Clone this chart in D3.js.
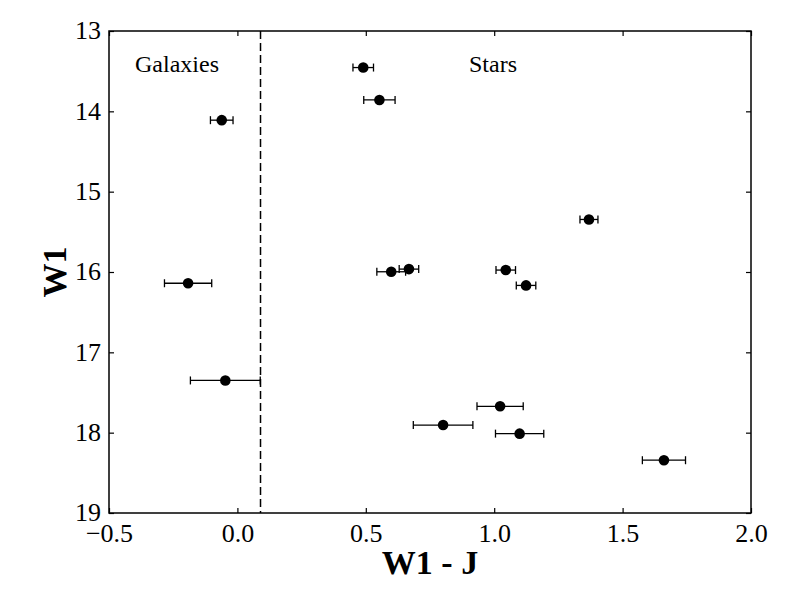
<!DOCTYPE html>
<html>
<head>
    <meta charset="utf-8">
    <script src="https://cdn.jsdelivr.net/npm/d3@7/dist/d3.min.js"></script>
    <style>
        body { margin: 0; background: #fff; }
        svg text { font-family: "Liberation Serif", "DejaVu Serif", serif; fill: #000; }
        .axis path { display: none; }
        .axis line { stroke: #000; stroke-width: 1.2; }
    </style>
</head>
<body>
    <svg id="CANVAS"></svg>
    <script>
        var W = 789;
        var H = 592;
        var M = { left: 109, right: 38, top: 31, bottom: 79 };
        var SERIF = "Liberation Serif, DejaVu Serif, serif";

        // W1 - J colour, W1 magnitude, error on colour
        var galaxyColor = [-0.061, -0.192, -0.047];
        var galaxyMag = [14.11, 16.14, 17.35];
        var galaxyErr = [0.044, 0.092, 0.136];

        var starColor = [0.490, 0.553, 1.369, 0.599, 0.668, 1.045, 1.124, 1.023, 0.801, 1.099, 1.661];
        var starMag = [13.455, 13.858, 15.346, 15.997, 15.964, 15.976, 16.167, 17.672, 17.905, 18.012, 18.343];
        var starErr = [0.040, 0.061, 0.035, 0.056, 0.038, 0.038, 0.038, 0.090, 0.116, 0.094, 0.084];

        var xTicks = [-0.5, 0.0, 0.5, 1.0, 1.5, 2.0];
        var yTicks = [13, 14, 15, 16, 17, 18, 19];
        var divider = 0.09;

        var svg = d3.select("#CANVAS").attr("width", W).attr("height", H);

        var x = d3.scaleLinear().domain([-0.5, 2.0]).range([M.left, W - M.right]);
        var y = d3.scaleLinear().domain([13, 19]).range([M.top, H - M.bottom]);

        var fmtX = function (d) { return d3.format(".1f")(d).replace("-", "\u2212"); };

        // bottom / left axes with labels, top / right mirror ticks
        svg.append("g").attr("class", "axis")
            .attr("transform", "translate(0," + (H - M.bottom) + ")")
            .call(d3.axisBottom(x).tickValues(xTicks).tickFormat(fmtX).tickSizeInner(-5).tickPadding(11))
            .selectAll("text").attr("font-size", 26).attr("dy", "0.71em");
        svg.append("g").attr("class", "axis")
            .attr("transform", "translate(0," + M.top + ")")
            .call(d3.axisTop(x).tickValues(xTicks).tickFormat("").tickSizeInner(-5));
        svg.append("g").attr("class", "axis")
            .attr("transform", "translate(" + M.left + ",0)")
            .call(d3.axisLeft(y).tickValues(yTicks).tickFormat(d3.format("d")).tickSizeInner(-5).tickPadding(8))
            .selectAll("text").attr("font-size", 26).attr("dy", "0.30em");
        svg.append("g").attr("class", "axis")
            .attr("transform", "translate(" + (W - M.right) + ",0)")
            .call(d3.axisRight(y).tickValues(yTicks).tickFormat("").tickSizeInner(-5));

        svg.selectAll(".axis").attr("font-family", SERIF);
        svg.selectAll(".axis .tick text").attr("fill", "#000").attr("font-family", SERIF);

        // divider between galaxies and stars
        svg.append("line")
            .attr("x1", x(divider)).attr("x2", x(divider))
            .attr("y1", y(13)).attr("y2", y(19))
            .attr("stroke", "#000").attr("stroke-width", 1.5)
            .attr("stroke-dasharray", "8,4");

        var points = [];
        galaxyColor.forEach(function (c, i) { points.push({ c: c, m: galaxyMag[i], e: galaxyErr[i] }); });
        starColor.forEach(function (c, i) { points.push({ c: c, m: starMag[i], e: starErr[i] }); });

        var G = svg.append("g");
        var P = G.selectAll("g.POINT").data(points).enter().append("g").attr("class", "POINT");
        P.append("line")
            .attr("x1", function (d) { return x(d.c - d.e); })
            .attr("x2", function (d) { return x(d.c + d.e); })
            .attr("y1", function (d) { return y(d.m); })
            .attr("y2", function (d) { return y(d.m); })
            .attr("stroke", "#000").attr("stroke-width", 1.3);
        [-1, 1].forEach(function (s) {
            P.append("line")
                .attr("x1", function (d) { return x(d.c + s * d.e); })
                .attr("x2", function (d) { return x(d.c + s * d.e); })
                .attr("y1", function (d) { return y(d.m) - 4; })
                .attr("y2", function (d) { return y(d.m) + 4; })
                .attr("stroke", "#000").attr("stroke-width", 1.3);
        });
        P.append("circle")
            .attr("cx", function (d) { return x(d.c); })
            .attr("cy", function (d) { return y(d.m); })
            .attr("r", 5.3)
            .attr("fill", "#000");

        // frame
        svg.append("rect")
            .attr("x", M.left).attr("y", M.top)
            .attr("width", W - M.left - M.right).attr("height", H - M.top - M.bottom)
            .attr("fill", "none").attr("stroke", "#000").attr("stroke-width", 1.5);

        // region labels
        svg.append("text").attr("x", 135).attr("y", 72).attr("font-size", 24).text("Galaxies");
        svg.append("text").attr("x", 469).attr("y", 72).attr("font-size", 24).text("Stars");

        // axis titles
        svg.append("text")
            .attr("x", (M.left + W - M.right) / 2).attr("y", 574)
            .attr("text-anchor", "middle").attr("font-size", 34).attr("font-weight", "bold")
            .text("W1 - J");
        svg.append("text")
            .attr("transform", "translate(66," + ((M.top + H - M.bottom) / 2) + ") rotate(-90)")
            .attr("text-anchor", "middle").attr("font-size", 34).attr("font-weight", "bold")
            .text("W1");
    </script>
</body>
</html>
